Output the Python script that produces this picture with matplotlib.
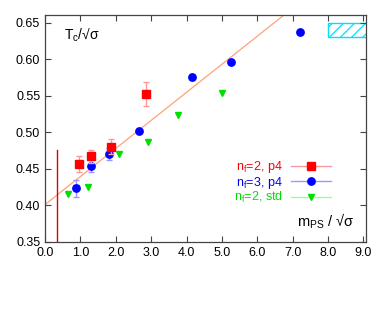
import matplotlib
matplotlib.use('Agg')
import matplotlib.pyplot as plt
from matplotlib.lines import Line2D
from matplotlib.patches import Rectangle

plt.rcParams['font.family'] = ['Liberation Sans', 'DejaVu Sans']
plt.rcParams['hatch.linewidth'] = 0.9

# nf=2, p4
p4_2_x = [0.95, 1.31, 1.85, 2.86]
p4_2_y = [0.456, 0.467, 0.480, 0.552]
p4_2_err = [0.011, 0.009, 0.010, 0.016]

# nf=3, p4
p4_3_x = [0.88, 1.29, 1.82, 2.66, 4.16, 5.25, 7.20]
p4_3_y = [0.423, 0.454, 0.470, 0.502, 0.575, 0.596, 0.637]
p4_3_err = [0.012, 0.009, 0.008, 0.002, 0.004, 0.003, 0.002]

# nf=2, std
std_x = [0.64, 0.88, 1.22, 2.08, 2.92, 3.76, 5.00]
std_y = [0.415, 0.423, 0.425, 0.470, 0.487, 0.523, 0.554]

# linear fit
fit_a = 0.401
fit_b = 0.0384

xticks = [0.0, 1.0, 2.0, 3.0, 4.0, 5.0, 6.0, 7.0, 8.0, 9.0]
yticks = [0.35, 0.40, 0.45, 0.50, 0.55, 0.60, 0.65]

fig = plt.figure(figsize=(3.82, 3.10), dpi=100)
ax = fig.add_axes([0.118, 0.220, 0.840, 0.732])

# fit line
fx = [0.0, 9.1]
ax.plot(fx, [fit_a + fit_b * v for v in fx], color='#ffa07a', lw=0.9, zorder=1)

# vertical marker
ax.plot([0.35, 0.35], [0.35, 0.475], color='#e00000', lw=1.0, zorder=1)

# hatched band
ax.add_patch(Rectangle((8.0, 0.630), 1.2, 0.020, fill=False, edgecolor='#00e0ff',
                       hatch='///', lw=1.0, zorder=1))

ax.errorbar(std_x, std_y, fmt='v', color='#00e000', ms=4.5, mec='#00e000', zorder=3)
ax.errorbar(p4_3_x, p4_3_y, yerr=p4_3_err, fmt='o', color='#0000ff', ms=5.3,
            ecolor='#9999ff', elinewidth=1, capsize=2, zorder=4)
ax.errorbar(p4_2_x, p4_2_y, yerr=p4_2_err, fmt='s', color='#ff0000', ms=5.3,
            ecolor='#ff9999', elinewidth=1, capsize=2, zorder=5)

ax.set_xlim(0, 9.07)
ax.set_ylim(0.35, 0.6605)
ax.set_xticks(xticks)
ax.set_yticks(yticks)
ax.set_xticklabels(['%.1f' % v for v in xticks])
ax.set_yticklabels(['%.2f' % v for v in yticks])
ax.tick_params(direction='in', top=True, right=True, labeltop=False, labelright=False,
               length=4, width=0.8, colors='#444444', labelcolor='black', labelsize=9)
for s in ax.spines.values():
    s.set_color('#444444')
    s.set_linewidth(0.9)

ax.text(0.06, 0.91, 'T$_\\mathregular{c}$/√σ', transform=ax.transAxes,
        fontsize=10, va='center', ha='left')
ax.text(0.784, 0.09, 'm$_\\mathregular{PS}$ / √σ', transform=ax.transAxes,
        fontsize=10.5, va='center', ha='left')

handles = [
    Line2D([0], [0], color='#ff9999', marker='s', mfc='#ff0000', mec='#ff0000', ms=5.3, lw=1),
    Line2D([0], [0], color='#9999ff', marker='o', mfc='#0000ff', mec='#0000ff', ms=5.3, lw=1),
    Line2D([0], [0], color='#99ff99', marker='v', mfc='#00e000', mec='#00e000', ms=4.5, lw=1),
]
labels = ['n$_\\mathregular{f}$=2, p4', 'n$_\\mathregular{f}$=3, p4', 'n$_\\mathregular{f}$=2, std']
leg = ax.legend(handles, labels, loc='center right', bbox_to_anchor=(0.917, 0.262),
                markerfirst=False, frameon=False, fontsize=9, handlelength=3.2,
                handletextpad=0.6, labelspacing=-0.05, borderpad=0.2)
for t, c in zip(leg.get_texts(), ['#ff0000', '#0000ff', '#00e000']):
    t.set_color(c)

fig.savefig('out.png', dpi=100)
